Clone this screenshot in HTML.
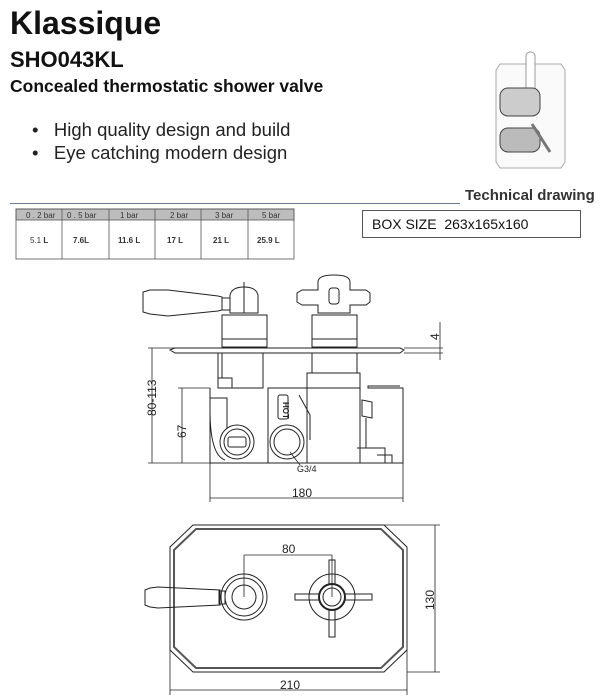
<!DOCTYPE html>
<html><head><meta charset="utf-8"><style>
body{margin:0;width:611px;height:700px;background:#fff;position:relative;overflow:hidden;font-family:"Liberation Sans",sans-serif;color:#111}
.a{position:absolute;white-space:nowrap}
</style></head><body>
<div class="a" style="left:10px;top:5px;font-size:32px;font-weight:bold;letter-spacing:0px">Klassique</div>
<div class="a" style="left:10px;top:47px;font-size:22px;font-weight:bold">SHO043KL</div>
<div class="a" style="left:10px;top:76px;font-size:17.5px;font-weight:bold">Concealed thermostatic shower valve</div>
<div class="a" style="left:32px;top:119px;font-size:18.5px;color:#222">•&nbsp;&nbsp;&nbsp;High quality design and build</div>
<div class="a" style="left:32px;top:142px;font-size:18.5px;color:#222">•&nbsp;&nbsp;&nbsp;Eye catching modern design</div>
<div class="a" style="left:465px;top:187px;font-size:15px;font-weight:bold;color:#333">Technical drawing</div>
<div class="a" style="left:10px;top:203px;width:450px;height:1px;background:#6a7a90"></div>
<div class="a" style="left:362px;top:210px;border:1px solid #555;font-size:14px;line-height:26px;padding-left:9px;box-sizing:border-box;width:219px;height:28px">BOX SIZE&nbsp; 263x165x160</div>
<svg class="a" style="left:0;top:0" width="611" height="700" viewBox="0 0 611 700">
<g font-family="Liberation Sans" font-size="8" fill="#333">
<rect x="16" y="209" width="278" height="11" fill="#bdbdbd" stroke="#555" stroke-width="0.8"/>
<rect x="16" y="209" width="278" height="50" fill="none" stroke="#555" stroke-width="0.8"/>
<g stroke="#555" stroke-width="0.8"><line x1="62" y1="209" x2="62" y2="259"/><line x1="109" y1="209" x2="109" y2="259"/><line x1="155" y1="209" x2="155" y2="259"/><line x1="201" y1="209" x2="201" y2="259"/><line x1="248" y1="209" x2="248" y2="259"/></g>
<text x="26" y="218">0 . 2 bar</text><text x="67" y="218">0 . 5 bar</text><text x="120" y="218">1 bar</text><text x="170" y="218">2 bar</text><text x="215" y="218">3 bar</text><text x="262" y="218">5 bar</text>
<g font-weight="bold" font-size="8"><text x="30" y="243" font-weight="normal">5.1 <tspan font-weight="bold">L</tspan></text><text x="73" y="243">7.6L</text><text x="118" y="243">11.6 L</text><text x="167" y="243">17 L</text><text x="213" y="243">21 L</text><text x="257" y="243">25.9 L</text></g>
</g>
<!-- product image -->
<g stroke="#aaa" stroke-width="1" fill="#fafafa">
<path d="M500 64 L561 64 L565 70 L565 162 L561 168 L500 168 L496 162 L496 70 Z"/>
<rect x="526" y="52" width="9" height="42" rx="4" fill="#fff" stroke="#999"/>
<rect x="500" y="88" width="40" height="28" rx="8" fill="#ccc" stroke="#444"/>
<rect x="500" y="128" width="40" height="24" rx="8" fill="#bbb" stroke="#444"/>
<line x1="532" y1="124" x2="550" y2="152" stroke="#777" stroke-width="3"/>
</g>
<!-- side view -->
<g fill="none" stroke="#222" stroke-width="1">
<path d="M143 292 L150 290 L168 290 L218 296 L222 297 L222 310 L218 311 L168 316 L150 314 L143 312 Z"/>
<rect x="222" y="298" width="8" height="12"/>
<path d="M230 295 Q232 287 244 287 Q256 287 258 295 L258 313 L230 313 Z"/>
<line x1="244" y1="282" x2="244" y2="313"/>
<rect x="222" y="315" width="45" height="32"/><line x1="222" y1="339" x2="267" y2="339"/>
<path d="M170 350 L175 348 L400 348 L404 350 L400 353 L175 353 Z"/>
<rect x="218" y="353" width="45" height="35"/><line x1="222" y1="353" x2="222" y2="378"/><rect x="218" y="378" width="14" height="10"/>
<path d="M318 282 Q318 275 334 275 Q350 275 350 282 L350 290 L366 290 L370 293 L370 302 L366 305 L350 305 L350 313 L318 313 L318 305 L302 305 L297 302 L297 293 L302 290 L318 290 Z"/>
<rect x="329" y="288" width="10" height="16" rx="3"/>
<rect x="312" y="315" width="45" height="32"/><line x1="312" y1="339" x2="357" y2="339"/>
<rect x="312" y="353" width="45" height="20"/><rect x="307" y="373" width="53" height="15"/>
<path d="M210 388 L210 463 L403 463 L403 388 L368 388 L368 386 L400 386"/>
<rect x="307" y="388" width="53" height="75"/>
<rect x="268" y="388" width="39" height="75"/>
<path d="M210 398 L227 398 L227 428 M210 410 Q210 455 225 460"/>
<circle cx="237" cy="442" r="17"/><circle cx="237" cy="442" r="13"/><rect x="228" y="437" width="18" height="10" rx="2"/>
<circle cx="287" cy="442" r="17"/><circle cx="287" cy="442" r="13"/>
<rect x="278" y="395" width="10" height="24" rx="2"/>
<path d="M299 395 L310 415 L310 440"/>
<path d="M362 400 L372 402 L372 418 L362 416 Z M366 418 L366 448 M357 448 L385 448 L385 463 M377 455 L392 455 L392 463"/>
</g>
<text x="278" y="407" font-family="Liberation Sans" font-size="8" font-weight="bold" transform="rotate(90 283 407)" fill="#222">HOT</text>
<g stroke="#222" stroke-width="0.8" fill="none">
<line x1="148" y1="348" x2="218" y2="348"/><line x1="148" y1="463" x2="210" y2="463"/><line x1="152" y1="348" x2="152" y2="463"/>
<line x1="178" y1="388" x2="210" y2="388"/><line x1="182" y1="388" x2="182" y2="463"/>
<line x1="210" y1="463" x2="210" y2="502"/><line x1="403" y1="463" x2="403" y2="502"/><line x1="210" y1="498" x2="403" y2="498"/>
<line x1="404" y1="348" x2="443" y2="348"/><line x1="404" y1="353" x2="443" y2="353"/><line x1="440" y1="322" x2="440" y2="360"/>
<line x1="290" y1="452" x2="300" y2="465"/>
</g>
<g font-family="Liberation Sans" font-size="12" fill="#222">
<text x="0" y="0" transform="translate(156 416) rotate(-90)">80-113</text>
<text x="0" y="0" transform="translate(186 438) rotate(-90)">67</text>
<text x="0" y="0" transform="translate(439 340) rotate(-90)">4</text>
<text x="292" y="497">180</text>
<text x="297" y="472" font-size="9">G3/4</text>
<text x="282" y="553">80</text>
<text x="0" y="0" transform="translate(434 610) rotate(-90)">130</text>
<text x="280" y="689">210</text>
</g>
<!-- top view -->
<g fill="none" stroke="#222" stroke-width="1">
<path d="M193 525 L384 525 L407 547 L407 650 L384 672 L193 672 L170 650 L170 547 Z"/>
<path d="M196 529 L381 529 L403 550 L403 647 L381 668 L196 668 L174 647 L174 550 Z" stroke="#555" stroke-width="2"/>
<path d="M145 590 L150 588 L158 587 L220 590 L220 605 L158 608 L150 607 L145 605 Z"/>
<rect x="219" y="591" width="6" height="13"/>
<circle cx="244" cy="597" r="23"/><circle cx="244" cy="597" r="19"/><circle cx="244" cy="597" r="12"/>
<circle cx="332" cy="597" r="23"/><circle cx="332" cy="597" r="13" stroke-width="2"/><circle cx="332" cy="597" r="9"/>
<path d="M329 560 h6 v24 h-6 Z M329 610 h6 v27 h-6 Z M295 594 h24 v6 h-24 Z M345 594 h27 v6 h-27 Z"/>
</g>
<g stroke="#222" stroke-width="0.8" fill="none">
<line x1="244" y1="555" x2="244" y2="597"/><line x1="332" y1="555" x2="332" y2="597"/><line x1="244" y1="555" x2="332" y2="555"/>
<line x1="384" y1="525" x2="440" y2="525"/><line x1="407" y1="672" x2="440" y2="672"/><line x1="435" y1="525" x2="435" y2="672"/>
<line x1="170" y1="650" x2="170" y2="695"/><line x1="407" y1="620" x2="407" y2="695"/><line x1="170" y1="690" x2="407" y2="690"/>
</g>
</svg>
</body></html>
